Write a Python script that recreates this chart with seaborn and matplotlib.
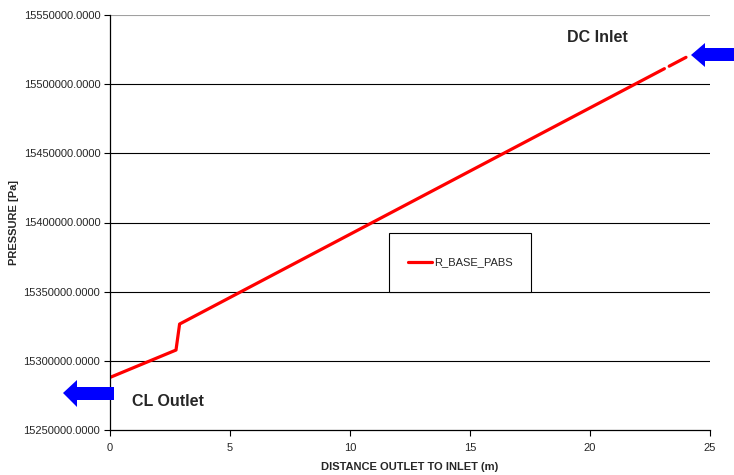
import matplotlib
matplotlib.use("Agg")
import matplotlib.pyplot as plt
from matplotlib.patches import Polygon, Rectangle
import seaborn as sns
import pandas as pd
import numpy as np

# ---- data ----
distance = [0.0, 2.75, 2.9, 23.1, 23.3, 24.0]
pressure = [15288000, 15307800, 15326600, 15511200, 15513000, 15519400]
segment = [1, 1, 1, 1, 2, 2]
series_name = "R_BASE_PABS"
y_ticks = [15250000, 15300000, 15350000, 15400000, 15450000, 15500000, 15550000]
x_ticks = [0, 5, 10, 15, 20, 25]

df = pd.DataFrame({"distance": distance, "pressure": pressure, "segment": segment})

sns.set_style("white")
plt.rcParams["font.family"] = ["Liberation Sans", "DejaVu Sans"]

W, H = 734, 475
fig = plt.figure(figsize=(W / 100, H / 100), dpi=100)
ax = fig.add_axes([110 / W, 45 / H, 600 / W, 415 / H])

sns.lineplot(data=df, x="distance", y="pressure", units="segment", estimator=None,
             color="#ff0000", linewidth=2.3, ax=ax, legend=False, sort=False)

ax.set_xlim(0, 25)
ax.set_ylim(15250000, 15550000)
ax.set_xticks(x_ticks)
ax.set_yticks(y_ticks)
ax.set_xticklabels([str(t) for t in x_ticks], fontsize=8)
ax.set_yticklabels([f"{t:.4f}" for t in y_ticks], fontsize=8)
ax.tick_params(axis="both", direction="out", length=4, width=0.8, color="black",
               left=True, bottom=True, pad=3)
ax.tick_params(axis="x", pad=5.5)

for t in y_ticks[1:-1]:
    ax.axhline(t, color="black", linewidth=0.8, zorder=0)
ax.axhline(y_ticks[-1], color="#a0a0a0", linewidth=0.8, zorder=0)

for s in ["top", "right"]:
    ax.spines[s].set_visible(False)
for s in ["left", "bottom"]:
    ax.spines[s].set_color("black")
    ax.spines[s].set_linewidth(0.9)

ax.set_xlabel("DISTANCE OUTLET TO INLET (m)", fontsize=8, fontweight="bold", labelpad=6.5)
ax.set_ylabel("PRESSURE [Pa]", fontsize=8, fontweight="bold")
ax.yaxis.label.set_va("center")
ax.yaxis.set_label_coords((14 - 110) / 600, 0.5)

# legend box
x0, y0, w, h = (389 - 110) / 600, (430 - 292) / 415, 142 / 600, 59 / 415
ax.add_patch(Rectangle((x0, y0), w, h, transform=ax.transAxes, facecolor="white",
                       edgecolor="black", linewidth=0.8, zorder=4))
ax.plot([], [], color="#ff0000", linewidth=2.3, label=series_name)
leg = ax.legend(loc="center", bbox_to_anchor=(x0 + w / 2, y0 + h / 2), frameon=False,
                fontsize=8, handlelength=2.2, handletextpad=0.15)
leg.set_zorder(5)

# annotations
def px(x, y):
    return (x / W, (H - y) / H)

cl_arrow = [px(63, 393), px(77, 380), px(77, 387), px(114, 387), px(114, 400),
            px(77, 400), px(77, 407)]
dc_arrow = [px(691, 55), px(705, 43), px(705, 48), px(734, 48), px(734, 61),
            px(705, 61), px(705, 67)]
for pts in (cl_arrow, dc_arrow):
    fig.patches.append(Polygon(pts, closed=True, transform=fig.transFigure,
                               facecolor="#0000ff", edgecolor="none"))

fig.text(132 / W, (H - 401) / H, "CL Outlet", fontsize=11.5, fontweight="bold",
         va="center", ha="left")
fig.text(567 / W, (H - 38) / H, "DC Inlet", fontsize=11.5, fontweight="bold",
         va="center", ha="left")

fig.savefig("out.png", dpi=100, facecolor="white")
